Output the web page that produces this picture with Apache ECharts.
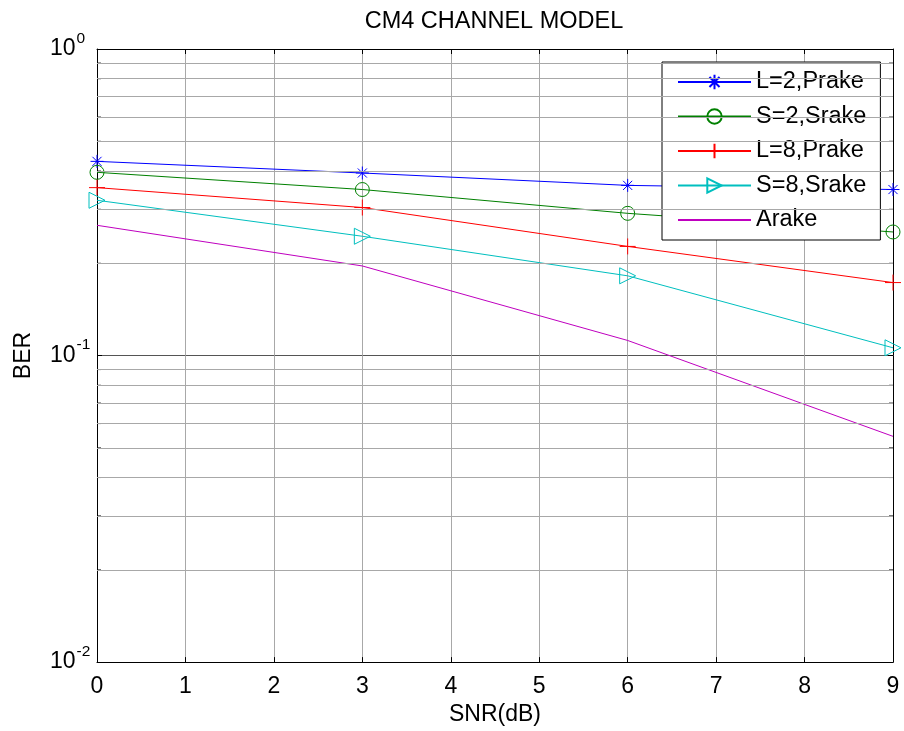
<!DOCTYPE html>
<html>
<head>
<meta charset="utf-8">
<script src="https://cdn.jsdelivr.net/npm/echarts@6/dist/echarts.min.js"></script>
<style>html,body{margin:0;padding:0;background:#fff;}#c{width:904px;height:731px;}</style>
</head>
<body>
<div id="c"></div>
<script>
const snr = [0, 3, 6, 9];
const seriesNames = ['L=2,Prake', 'S=2,Srake', 'L=8,Prake', 'S=8,Srake', 'Arake'];
const berL2 = [0.430, 0.394, 0.359, 0.348];
const berS2 = [0.396, 0.348, 0.291, 0.253];
const berL8 = [0.353, 0.304, 0.227, 0.173];
const berS8 = [0.321, 0.245, 0.182, 0.106];
const berA  = [0.266, 0.196, 0.112, 0.0545];
const xTicks = [0, 1, 2, 3, 4, 5, 6, 7, 8, 9];
const yMajor = [0.01, 0.1, 1];
const yMinor = [0.02, 0.03, 0.04, 0.05, 0.06, 0.07, 0.08, 0.09, 0.2, 0.3, 0.4, 0.5, 0.6, 0.7, 0.8, 0.9];

const FONT = 'Liberation Sans, Arial, sans-serif';
const colors = ['#0000ff', '#008000', '#ff0000', '#00bfbf', '#bf00bf'];
const symbols = [
  'path://M0,-1L0,1M-1,0L1,0M-0.7,-0.7L0.7,0.7M-0.7,0.7L0.7,-0.7',
  'circle',
  'path://M0,-1L0,1M-1,0L1,0',
  'path://M-0.8,-1L1,0L-0.8,1Z',
  'none'
];
const sizes = [13, 14, 16, 16, 0];
const datas = [berL2, berS2, berL8, berS8, berA];

const chart = echarts.init(document.getElementById('c'));
const series = [{
  type: 'line', name: '_grid', data: [], z: 1, silent: true,
  xAxisIndex: 0, yAxisIndex: 0,
  markLine: {
    silent: true, symbol: 'none', label: {show: false}, animation: false,
    lineStyle: {color: '#a8a8a8', type: 'solid', width: 1},
    data: yMinor.map(v => ({yAxis: v}))
  }
}, {
  type: 'scatter', name: '_tickL', silent: true, z: 4, clip: false,
  data: yMinor.map(v => [xTicks[0], v]),
  symbol: 'rect', symbolSize: [4, 1], symbolOffset: [2, 0],
  itemStyle: {color: '#000'}, animation: false
}, {
  type: 'scatter', name: '_tickR', silent: true, z: 4, clip: false,
  data: yMinor.map(v => [xTicks[xTicks.length - 1], v]),
  symbol: 'rect', symbolSize: [4, 1], symbolOffset: [-2, 0],
  itemStyle: {color: '#000'}, animation: false
}];
datas.forEach((d, i) => {
  series.push({
    type: 'line', name: seriesNames[i], z: 3, clip: false,
    data: d.map((v, k) => [snr[k], v]),
    symbol: symbols[i], symbolSize: sizes[i], showSymbol: symbols[i] !== 'none',
    lineStyle: {color: colors[i], width: 1},
    itemStyle: {color: 'rgba(0,0,0,0)', borderColor: colors[i], borderWidth: symbols[i] === 'none' ? 0 : 1},
    emphasis: {disabled: true},
    animation: false
  });
});

const legendData = seriesNames.map((n, i) => symbols[i] === 'none'
  ? {name: n, itemStyle: {color: 'rgba(0,0,0,0)', borderWidth: 0, borderColor: 'rgba(0,0,0,0)'}}
  : {name: n});

chart.setOption({
  backgroundColor: '#fff',
  animation: false,
  title: {
    text: 'CM4 CHANNEL MODEL', left: 494, top: 10, padding: 0, textAlign: 'center',
    textStyle: {fontFamily: FONT, fontSize: 23.5, fontWeight: 'normal', color: '#000'}
  },
  grid: {left: 97, right: 11, top: 49, bottom: 67, show: false},
  legend: {
    data: legendData, orient: 'vertical', left: 662, top: 62,
    padding: [8, 14, 8, 15], itemGap: 10.5, itemWidth: 73, itemHeight: 18,
    backgroundColor: '#fff', borderColor: '#000', borderWidth: 1,
    textStyle: {fontFamily: FONT, fontSize: 23.5, color: '#000', lineHeight: 24},
    selectedMode: false
  },
  xAxis: [{
    type: 'value', min: 0, max: 9, interval: 1,
    name: 'SNR(dB)', nameLocation: 'middle', nameGap: 34,
    nameTextStyle: {fontFamily: FONT, fontSize: 23, color: '#000'},
    axisLine: {show: true, lineStyle: {color: '#000', width: 1}},
    axisTick: {show: true, inside: true, length: 5, lineStyle: {color: '#000'}},
    axisLabel: {fontFamily: FONT, fontSize: 23, color: '#000', margin: 13},
    splitLine: {show: true, lineStyle: {color: '#a8a8a8', width: 1}}
  }, {
    type: 'value', min: 0, max: 9, interval: 1, position: 'top',
    axisLine: {show: true, onZero: false, lineStyle: {color: '#000', width: 1}},
    axisTick: {show: true, inside: true, length: 5, lineStyle: {color: '#000'}},
    axisLabel: {show: false}, splitLine: {show: false}
  }],
  yAxis: [{
    type: 'log', logBase: 10, min: 0.01, max: 1, interval: 1,
    name: 'BER', nameLocation: 'middle', nameGap: 62, nameRotate: 90,
    nameTextStyle: {fontFamily: FONT, fontSize: 23, color: '#000'},
    axisLine: {show: true, lineStyle: {color: '#000', width: 1}},
    axisTick: {show: true, inside: true, length: 5, lineStyle: {color: '#000'}},
    axisLabel: {
      align: 'left', margin: 47,
      formatter: v => '{b|10}{s|' + Math.round(Math.log10(v)) + '}',
      rich: {
        b: {fontFamily: FONT, fontSize: 23, color: '#000'},
        s: {fontFamily: FONT, fontSize: 15.5, color: '#000', padding: [0, 0, 21, 1]}
      }
    },
    splitLine: {show: true, lineStyle: {color: '#555', width: 1}}
  }, {
    type: 'log', logBase: 10, min: 0.01, max: 1, interval: 1, position: 'right',
    axisLine: {show: true, onZero: false, lineStyle: {color: '#000', width: 1}},
    axisTick: {show: true, inside: true, length: 5, lineStyle: {color: '#000'}},
    axisLabel: {show: false}, splitLine: {show: false}
  }],
  series: series
});
</script>
</body>
</html>
